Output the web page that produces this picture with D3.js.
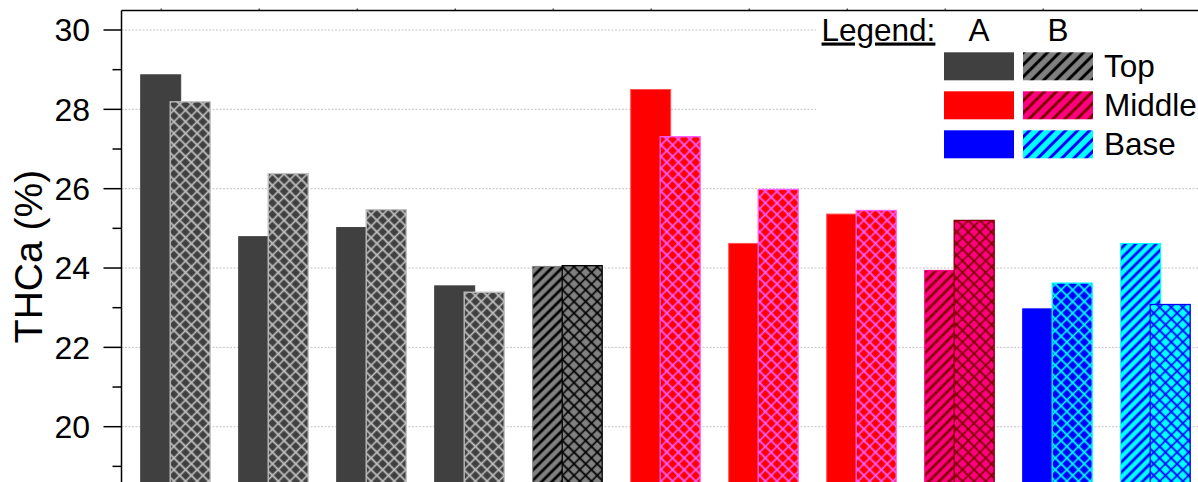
<!DOCTYPE html>
<html>
<head>
<meta charset="utf-8">
<script src="https://cdn.jsdelivr.net/npm/d3@7"></script>
<style>
  html, body { margin: 0; padding: 0; background: #fff; }
  svg { display: block; font-family: "Liberation Sans", Arial, sans-serif; }
</style>
</head>
<body>
<svg id="chart" width="1198" height="482"></svg>
<script>
// ---- data ----
const categories = ["1", "2", "3", "4", "5", "6", "7", "8", "9", "10", "11"];
const zones = ["Top", "Top", "Top", "Top", "Top", "Middle", "Middle", "Middle", "Middle", "Base", "Base"];
const valuesA = [28.87, 24.79, 25.02, 23.55, 24.04, 28.50, 24.62, 25.36, 23.94, 22.97, 24.62];
const valuesB = [28.19, 26.38, 25.47, 23.39, 24.06, 27.31, 25.98, 25.45, 25.20, 23.62, 23.08];
const yTicks = [20, 22, 24, 26, 28, 30];
const yMinorTicks = [19, 21, 23, 25, 27, 29];
const legendRows = ["Top", "Middle", "Base"];
const legendCols = ["A", "B"];
const yTitle = "THCa (%)";

// ---- styles ----
const groupStyle = ["dark", "dark", "dark", "dark", "grayH", "red", "red", "red", "pinkH", "blue", "cyanH"];
const styles = {
  dark:  { aFill: "#404040", aPat: null, aStroke: "#404040", bFill: "#404040", bPat: "#c0c0c0", bStroke: "#c0c0c0" },
  grayH: { aFill: "#808080", aPat: "#000000", aStroke: "#808080", bFill: "#808080", bPat: "#000000", bStroke: "#000000" },
  red:   { aFill: "#ff0000", aPat: null, aStroke: "#ff5050", bFill: "#ff0000", bPat: "#ff5cff", bStroke: "#ff5cff" },
  pinkH: { aFill: "#ff0080", aPat: "#800000", aStroke: "#ff0080", bFill: "#ff0080", bPat: "#800000", bStroke: "#800000" },
  blue:  { aFill: "#0000ff", aPat: null, aStroke: "#0000ff", bFill: "#0000ff", bPat: "#00ffff", bStroke: "#00ffff" },
  cyanH: { aFill: "#00ffff", aPat: "#0000ff", aStroke: "#00ffff", bFill: "#00ffff", bPat: "#0000ff", bStroke: "#0000ff" }
};
const legendStyle = { Top: ["dark", "grayH"], Middle: ["red", "pinkH"], Base: ["blue", "cyanH"] };

const svg = d3.select("#chart");
const W = 1198, H = 482;
const plotLeft = 121.5, plotTop = 10.5, plotBottom = H, plotRight = W;

const x = d3.scalePoint().domain(categories).range([160.7, 1140.7]);
const y = d3.scaleLinear().domain([20, 30]).range([426.7, 30]);
const barW = 40, bOffset = 9.5;

// patterns
const defs = svg.append("defs");
let pid = 0;
function crossPattern(fill, line) {
  const id = "cross" + (pid++);
  const w = 8.2;
  const p = defs.append("pattern").attr("id", id).attr("patternUnits", "userSpaceOnUse")
    .attr("width", w).attr("height", w).attr("patternTransform", "rotate(45)");
  p.append("rect").attr("width", w).attr("height", w).attr("fill", fill);
  p.append("path").attr("d", `M0,${w/2}H${w}M${w/2},0V${w}`).attr("stroke", line).attr("stroke-width", 1.6).attr("fill", "none");
  return "url(#" + id + ")";
}
function diagPattern(fill, line, w, sw) {
  const id = "diag" + (pid++);
  const p = defs.append("pattern").attr("id", id).attr("patternUnits", "userSpaceOnUse")
    .attr("width", w).attr("height", w).attr("patternTransform", "rotate(45)");
  p.append("rect").attr("width", w).attr("height", w).attr("fill", fill);
  p.append("path").attr("d", `M${w/2},0V${w}`).attr("stroke", line).attr("stroke-width", sw).attr("fill", "none");
  return "url(#" + id + ")";
}

// gridlines
svg.append("g").selectAll("line").data(yTicks).join("line")
  .attr("x1", plotLeft).attr("x2", plotRight)
  .attr("y1", d => y(d)).attr("y2", d => y(d))
  .attr("stroke", "#c4c4c4").attr("stroke-width", 1).attr("stroke-dasharray", "2,1.5");

// bars
const bars = svg.append("g");
categories.forEach((c, i) => {
  const s = styles[groupStyle[i]];
  const aFill = s.aPat ? diagPattern(s.aFill, s.aPat, 7.2, 2.7) : s.aFill;
  const bFill = crossPattern(s.bFill, s.bPat);
  bars.append("rect")
    .attr("x", x(c) - barW / 2).attr("width", barW)
    .attr("y", y(valuesA[i])).attr("height", plotBottom + 5 - y(valuesA[i]))
    .attr("fill", aFill).attr("stroke", s.aStroke).attr("stroke-width", 1);
  bars.append("rect")
    .attr("x", x(c) + bOffset).attr("width", barW)
    .attr("y", y(valuesB[i])).attr("height", plotBottom + 5 - y(valuesB[i]))
    .attr("fill", bFill).attr("stroke", s.bStroke).attr("stroke-width", 1.3);
});

// legend
const lg = svg.append("g");
const lgFont = 31.5;
lg.append("rect").attr("x", 816).attr("y", plotTop + 1).attr("width", W - 816).attr("height", 155).attr("fill", "#fff");
lg.append("text").attr("x", 821.5).attr("y", 40.5).attr("font-size", lgFont)
  .attr("text-decoration", "underline").text("Legend:");
const colX = [944, 1023];
legendCols.forEach((t, j) => {
  lg.append("text").attr("x", colX[j] + 35).attr("y", 40.5).attr("font-size", lgFont)
    .attr("text-anchor", "middle").text(t);
});
legendRows.forEach((r, k) => {
  const y0 = 52.3 + k * 39;
  const sa = styles[legendStyle[r][0]], sb = styles[legendStyle[r][1]];
  lg.append("rect").attr("x", colX[0]).attr("y", y0).attr("width", 70).attr("height", 28)
    .attr("fill", sa.aFill);
  lg.append("rect").attr("x", colX[1]).attr("y", y0).attr("width", 70).attr("height", 28)
    .attr("fill", diagPattern(sb.aFill, sb.aPat, 8.5, 3));
  lg.append("text").attr("x", 1104).attr("y", y0 + 24.5).attr("font-size", lgFont).text(r);
});

// axes
const axis = svg.append("g").attr("stroke", "#000");
axis.append("line").attr("x1", plotLeft).attr("x2", plotLeft).attr("y1", plotTop).attr("y2", plotBottom).attr("stroke-width", 1.5);
axis.append("line").attr("x1", plotLeft).attr("x2", plotRight).attr("y1", plotTop).attr("y2", plotTop).attr("stroke-width", 1.5);
axis.selectAll(".maj").data(yTicks).join("line").attr("class", "maj")
  .attr("x1", 103.5).attr("x2", plotLeft).attr("y1", d => y(d)).attr("y2", d => y(d)).attr("stroke-width", 1.5);
axis.selectAll(".min").data(yMinorTicks).join("line").attr("class", "min")
  .attr("x1", 112.5).attr("x2", plotLeft).attr("y1", d => y(d)).attr("y2", d => y(d)).attr("stroke-width", 1.5);
axis.selectAll(".top").data(categories).join("line").attr("class", "top")
  .attr("x1", d => x(d) + 0.5).attr("x2", d => x(d) + 0.5).attr("y1", plotTop).attr("y2", plotTop - 2).attr("stroke-width", 1);

svg.append("g").selectAll("text").data(yTicks).join("text")
  .attr("x", 90).attr("y", d => y(d)).attr("dy", "0.355em")
  .attr("text-anchor", "end").attr("font-size", 32).text(d => d);

svg.append("text").attr("transform", "translate(41.7,256.5) rotate(-90)")
  .attr("text-anchor", "middle").attr("font-size", 39).text(yTitle);
</script>
</body>
</html>
